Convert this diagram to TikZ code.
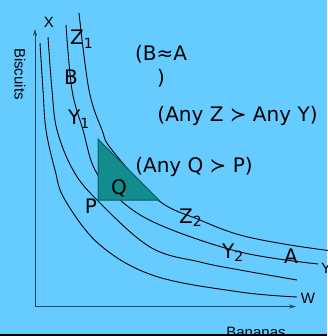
\documentclass[tikz,border=0pt]{standalone}
\usepackage{fontspec}
\setmainfont{Liberation Sans}
\newfontfamily\comicfont{DejaVu Sans}
\usetikzlibrary{arrows.meta}
\definecolor{slidebg}{RGB}{102,204,255}
\definecolor{axiscol}{RGB}{35,70,95}
\definecolor{tealdark}{RGB}{18,140,140}
\definecolor{teallight}{RGB}{118,200,212}
\definecolor{tealedge}{RGB}{8,92,98}
\tikzset{
  icurve/.style={black, line width=0.9pt},
  axisline/.style={axiscol, line width=1pt, -{Stealth[length=7pt,width=4pt]}},
  lbl/.style={font=\comicfont\fontsize{20}{24}\selectfont, inner sep=0pt},
  axlbl/.style={font=\fontsize{15}{18}\selectfont, inner sep=0pt},
}
\begin{document}
\begin{tikzpicture}[x=1pt,y=-1pt]
% slide background
\fill[slidebg] (0,0) rectangle (327,336);
\useasboundingbox (0,0) rectangle (327,336);
% axes
\coordinate (origin) at (35,306.5);
\coordinate (ytip) at (35,29);
\coordinate (xtip) at (296,306.5);
\draw[axisline] (origin) -- (ytip);
\draw[axisline] (origin) -- (xtip);
\node[axlbl, rotate=-90] (biscuits) at (20,74) {Biscuits};
\node[axlbl, anchor=base] (bananas) at (256,337) {Bananas};
% indifference curves W, X, Y, Z
\draw[icurve] plot[smooth, tension=0.6] coordinates {(40,43) (43,90) (46,130) (55,170) (65,200) (100,245) (155,276) (240,292) (297,297)};
\draw[icurve] plot[smooth, tension=0.6] coordinates {(48,37) (52,90) (57,130) (73,170) (97,200) (150,247) (200,262) (240,270) (297,280)};
\draw[icurve] plot[smooth, tension=0.6] coordinates {(66,25) (72,90) (83,130) (95,170) (120,200) (160,225) (240,252) (318,264)};
\draw[icurve] plot[smooth, tension=0.6] coordinates {(79,13) (89,90) (102,130) (112,150) (158,200) (200,220) (240,235) (290,245) (340,252)};
% region Q above P
\coordinate (tritop) at (98,139);
\coordinate (pcorner) at (98,200);
\coordinate (triright) at (159,200);
\shade[left color=tealdark, middle color=teallight, right color=tealdark] (tritop) -- (pcorner) -- (triright) -- cycle;
\draw[tealedge, line width=1pt] (tritop) -- (pcorner) -- (triright) -- cycle;
% curve labels
\node[axlbl] (xlbl) at (49,22) {X};
\node[axlbl] (wlbl) at (308,298) {W};
\node[axlbl, anchor=west] (ylbl) at (321,268) {Y};
\node[lbl, anchor=base west] (zone) at (70,45) {Z\textsubscript{1}};
\node[lbl, anchor=base] (bpt) at (71,85) {B};
\node[lbl, anchor=base west] (yone) at (68,125) {Y\textsubscript{1}};
\node[lbl, anchor=base] (qpt) at (119,194) {Q};
\node[lbl, anchor=base] (ppt) at (91,213) {P};
\node[lbl, anchor=base west] (ztwo) at (179,223) {Z\textsubscript{2}};
\node[lbl, anchor=base west] (ytwo) at (222,258) {Y\textsubscript{2}};
\node[lbl, anchor=base] (apt) at (291,263) {A};
% comments on the ranking
\node[lbl, align=center] (bsimA) at (161,66) {(B≈A\\)};
\node[lbl, anchor=base] (zoverY) at (237.5,122) {(Any Z ≻ Any Y)};
\node[lbl, anchor=base] (qoverP) at (194,173) {(Any Q ≻ P)};
% slide edge
\fill[black] (0,334) rectangle (327,336);
\end{tikzpicture}
\end{document}
